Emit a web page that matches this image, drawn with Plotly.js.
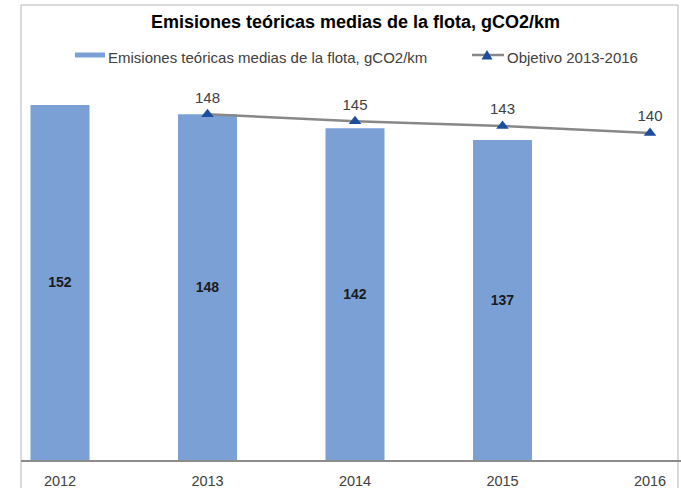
<!DOCTYPE html>
<html>
<head>
<meta charset="utf-8">
<script src="https://cdn.plot.ly/plotly-3.0.1.min.js"></script>
<style>html,body{margin:0;padding:0;background:#fff;}#chart{width:681px;height:488px;}</style>
</head>
<body>
<div id="chart"></div>
<script>
const years = ['2012', '2013', '2014', '2015', '2016'];
const barYears = ['2012', '2013', '2014', '2015'];
const emisiones = [152, 148, 142, 137];
const objYears = ['2013', '2014', '2015', '2016'];
const objetivo = [148, 145, 143, 140];
const barName = 'Emisiones teóricas medias de la flota, gCO2/km';
const lineName = 'Objetivo 2013-2016';
const titleText = '<b>Emisiones teóricas medias de la flota, gCO2/km</b>';

const FONT = 'Liberation Sans, Arial, sans-serif';
const BAR_COLOR = '#7aa0d6';
const LINE_COLOR = '#888888';
const MARKER_COLOR = '#1b4f9c';
const TEXT_COLOR = '#404040';

// plot area in pixels: left 21, width 660, top 90, height 370
const W = 660, H = 370, L = 21, T = 90;
const px = x => (x - L) / W;
const py = y => (T + H - y) / H;

const traces = [
  {
    type: 'bar',
    name: barName,
    x: barYears,
    y: emisiones,
    width: 0.4,
    marker: {color: BAR_COLOR, line: {width: 0}},
    text: emisiones.map(v => '<b>' + v + '</b>'),
    textposition: 'inside',
    insidetextanchor: 'middle',
    textangle: 0,
    textfont: {family: FONT, size: 14, color: '#1a1a1a'},
    showlegend: false
  },
  {
    type: 'scatter',
    mode: 'lines+markers+text',
    name: lineName,
    x: objYears,
    y: objetivo,
    text: objetivo.map(String),
    textposition: 'top center',
    textfont: {family: FONT, size: 15, color: TEXT_COLOR},
    line: {color: LINE_COLOR, width: 2.5},
    marker: {symbol: 'triangle-up', size: 11, color: MARKER_COLOR},
    cliponaxis: false,
    showlegend: false
  }
];

const layout = {
  width: 681,
  height: 488,
  margin: {l: L, r: 0, t: T, b: 488 - T - H},
  paper_bgcolor: '#ffffff',
  plot_bgcolor: '#ffffff',
  font: {family: FONT, size: 14, color: TEXT_COLOR},
  title: {
    text: titleText,
    font: {family: FONT, size: 18, color: '#000000'},
    x: 0.522, xanchor: 'center',
    y: 1 - 22 / 488, yanchor: 'middle'
  },
  showlegend: false,
  xaxis: {
    type: 'category',
    categoryorder: 'array',
    categoryarray: years,
    range: [-0.2644, 4.2102],
    showline: true,
    linecolor: '#8c8c8c',
    linewidth: 1.5,
    showgrid: false,
    zeroline: false,
    ticks: '',
    ticklabelstandoff: 7,
    tickfont: {family: FONT, size: 14.5, color: TEXT_COLOR},
    fixedrange: true
  },
  yaxis: {
    range: [0, 158.4],
    showgrid: false,
    zeroline: false,
    showline: false,
    showticklabels: false,
    ticks: '',
    fixedrange: true
  },
  shapes: [
    {
      type: 'rect', xref: 'paper', yref: 'paper',
      x0: 0, x1: px(678), y0: -0.3, y1: py(5),
      line: {color: '#b5b5b5', width: 1},
      fillcolor: 'rgba(0,0,0,0)',
      layer: 'below'
    },
    // legend: bar swatch
    {
      type: 'rect', xref: 'paper', yref: 'paper',
      x0: px(75), x1: px(105), y0: py(57.5), y1: py(52.5),
      line: {width: 0}, fillcolor: BAR_COLOR
    },
    // legend: line symbol
    {
      type: 'line', xref: 'paper', yref: 'paper',
      x0: px(472), x1: px(504), y0: py(55), y1: py(55),
      line: {color: LINE_COLOR, width: 2.5}
    },
    {
      type: 'path', xref: 'paper', yref: 'paper',
      path: 'M ' + px(481.5) + ' ' + py(59.5) + ' L ' + px(492.5) + ' ' + py(59.5) +
            ' L ' + px(487) + ' ' + py(50) + ' Z',
      line: {width: 0}, fillcolor: MARKER_COLOR
    }
  ],
  annotations: [
    {
      xref: 'paper', yref: 'paper', x: px(106), y: py(57.5),
      xanchor: 'left', yanchor: 'middle', showarrow: false,
      text: barName, font: {family: FONT, size: 15, color: TEXT_COLOR}
    },
    {
      xref: 'paper', yref: 'paper', x: px(505), y: py(57.5),
      xanchor: 'left', yanchor: 'middle', showarrow: false,
      text: lineName, font: {family: FONT, size: 15, color: TEXT_COLOR}
    }
  ]
};

Plotly.newPlot('chart', traces, layout, {displayModeBar: false, staticPlot: true});
</script>
</body>
</html>
